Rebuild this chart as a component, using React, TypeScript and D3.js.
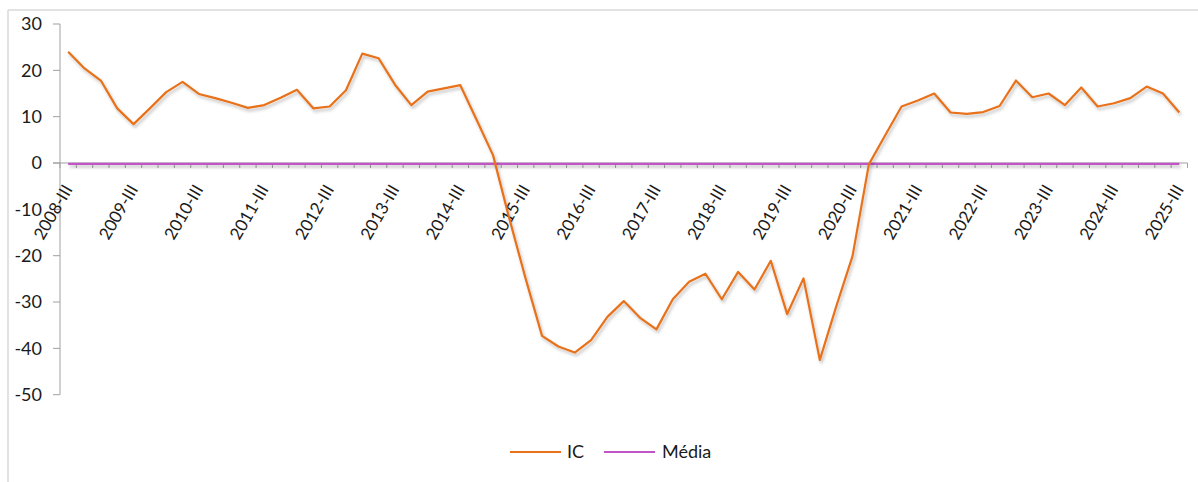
import React from "react";
import * as d3 from "d3";

const startYear = 2008;
const quarterNames = ["I", "II", "III", "IV"];
// 69 quarterly categories, 2008-III .. 2025-III
const categories: string[] = [];
for (let y = startYear; y <= 2025; y++) {
  for (let q = 0; q < 4; q++) {
    if ((y === startYear && q < 2) || (y === 2025 && q > 2)) continue;
    categories.push(`${y}-${quarterNames[q]}`);
  }
}

const tickLabels = [
  "2008-III", "2009-III", "2010-III", "2011-III", "2012-III", "2013-III",
  "2014-III", "2015-III", "2016-III", "2017-III", "2018-III", "2019-III",
  "2020-III", "2021-III", "2022-III", "2023-III", "2024-III", "2025-III",
];

const icValues = [
  24.0, 20.4, 17.8, 11.8, 8.4, 11.8, 15.3, 17.5, 14.9, 14.0, 13.0, 11.9,
  12.5, 14.1, 15.8, 11.8, 12.2, 15.7, 23.6, 22.6, 16.9, 12.5, 15.4, 16.1,
  16.8, 9.3, 1.7, -12.0, -25.0, -37.3, -39.6, -40.9, -38.2, -33.2, -29.8, -33.4,
  -35.9, -29.4, -25.6, -23.9, -29.4, -23.5, -27.3, -21.1, -32.6, -24.9, -42.5, -31.0,
  -20.1, -0.3, 6.0, 12.2, 13.5, 15.0, 10.9, 10.6, 11.0, 12.3, 17.8, 14.2,
  15.0, 12.5, 16.3, 12.2, 12.9, 14.0, 16.5, 15.0, 10.9,
];

const mediaValues = [
  -0.2, -0.2, -0.2, -0.2, -0.2, -0.2, -0.2, -0.2, -0.2, -0.2, -0.2, -0.2,
  -0.2, -0.2, -0.2, -0.2, -0.2, -0.2, -0.2, -0.2, -0.2, -0.2, -0.2, -0.2,
  -0.2, -0.2, -0.2, -0.2, -0.2, -0.2, -0.2, -0.2, -0.2, -0.2, -0.2, -0.2,
  -0.2, -0.2, -0.2, -0.2, -0.2, -0.2, -0.2, -0.2, -0.2, -0.2, -0.2, -0.2,
  -0.2, -0.2, -0.2, -0.2, -0.2, -0.2, -0.2, -0.2, -0.2, -0.2, -0.2, -0.2,
  -0.2, -0.2, -0.2, -0.2, -0.2, -0.2, -0.2, -0.2, -0.2,
];

const yTicks = [30, 20, 10, 0, -10, -20, -30, -40, -50];

const W = 1198;
const H = 482;
const FONT = "Lato, 'Open Sans', sans-serif";
const ORANGE = "#E8711A";
const PURPLE = "#C056C6";
const AXIS = "#A0A0A0";

export default function App() {
  const x = d3.scaleBand<string>().domain(categories).range([60, 1187.5]).padding(0);
  const y = d3.scaleLinear().domain([-50, 30]).range([394.7, 24]);
  const cx = (c: string) => (x(c) as number) + x.bandwidth() / 2;

  const line = d3
    .line<number>()
    .x((_, i) => cx(categories[i]))
    .y((d) => y(d));

  const y0 = y(0);
  const boundaries = categories.map((c) => x(c) as number).concat([x.range()[1]]);

  return (
    <svg
      width={W}
      height={H}
      style={{ position: "absolute", left: 0, top: 0, background: "#fff" }}
      fontFamily={FONT}
    >
      <defs>
        <filter id="shadow" filterUnits="userSpaceOnUse" x={0} y={0} width={W} height={H}>
          <feDropShadow dx="1.5" dy="2.5" stdDeviation="1.6" floodColor="#000" floodOpacity="0.25" />
        </filter>
      </defs>
      <rect x={0} y={0} width={W} height={H} fill="#fff" />
      {/* chart frame (clipped at right/bottom) */}
      <line x1={8} y1={10} x2={W} y2={10} stroke="#D9D9D9" strokeWidth={1.5} />
      <line x1={8} y1={10} x2={8} y2={H} stroke="#D9D9D9" strokeWidth={1.5} />

      {/* y axis */}
      <line x1={60} y1={y(30)} x2={60} y2={y(-50)} stroke={AXIS} strokeWidth={1} />
      {yTicks.map((t) => (
        <g key={t}>
          <line x1={53} y1={y(t)} x2={60} y2={y(t)} stroke={AXIS} strokeWidth={1} />
          <text x={42} y={y(t)} dy="0.35em" textAnchor="end" fontSize={18} fill="#1a1a1a">
            {t}
          </text>
        </g>
      ))}

      {/* x axis */}
      <line x1={53} y1={y0} x2={x.range()[1]} y2={y0} stroke={AXIS} strokeWidth={1.2} />
      {boundaries.map((b, i) => (
        <line key={i} x1={b} y1={y0} x2={b} y2={y0 + 5} stroke={AXIS} strokeWidth={1} />
      ))}
      {tickLabels.map((lab) => {
        const px = cx(lab) + 5;
        const py = y0 + 26;
        return (
          <text
            key={lab}
            x={px}
            y={py}
            textAnchor="end"
            fontSize={17}
            fill="#1a1a1a"
            transform={`rotate(-60 ${px} ${py})`}
          >
            {lab}
          </text>
        );
      })}

      {/* series */}
      <path d={line(mediaValues) || ""} fill="none" stroke={PURPLE} strokeWidth={2.2} filter="url(#shadow)" />
      <path d={line(icValues) || ""} fill="none" stroke={ORANGE} strokeWidth={2.2} strokeLinejoin="round" filter="url(#shadow)" />

      {/* legend */}
      <line x1={510} y1={452} x2={561} y2={452} stroke={ORANGE} strokeWidth={2.2} />
      <text x={567} y={452} dy="0.35em" fontSize={18} fill="#1a1a1a">IC</text>
      <line x1={604} y1={452} x2={655} y2={452} stroke={PURPLE} strokeWidth={2.2} />
      <text x={662} y={452} dy="0.35em" fontSize={18} fill="#1a1a1a">Média</text>
    </svg>
  );
}
